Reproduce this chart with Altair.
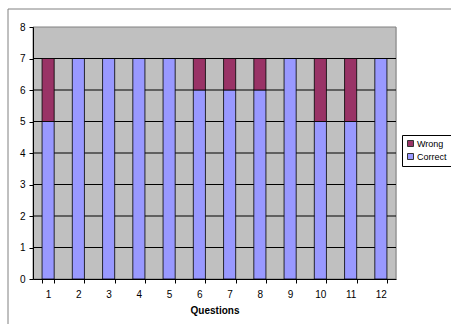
import altair as alt
import pandas as pd

questions = ["1", "2", "3", "4", "5", "6", "7", "8", "9", "10", "11", "12"]
correct = [5, 7, 7, 7, 7, 6, 6, 6, 7, 5, 5, 7]
wrong = [2, 0, 0, 0, 0, 1, 1, 1, 0, 2, 2, 0]
series = ["Wrong", "Correct"]
colors = ["#993366", "#9999FF"]
y_ticks = [0, 1, 2, 3, 4, 5, 6, 7, 8]
grid_lines = [1, 2, 3, 4, 5, 6, 7]

rows = []
for q, c, w in zip(questions, correct, wrong):
    rows.append({"Question": q, "Series": "Correct", "Value": c, "ord": 0})
    rows.append({"Question": q, "Series": "Wrong", "Value": w, "ord": 1})
df = pd.DataFrame(rows)

FONT = "Liberation Sans"
one = pd.DataFrame({"k": [0]})

y_axis = alt.Axis(title=None, values=y_ticks, labelOverlap=False,
                  domainColor="black", tickColor="black", tickSize=4,
                  labelColor="black", labelFontSize=10, labelPadding=4,
                  grid=False, zindex=1)
y_scale = alt.Scale(domain=[0, 8], nice=False)

frame_left = alt.Chart(one).mark_rule(color="#808080", strokeWidth=1, clip=False).encode(
    x=alt.value(-25), y=alt.value(-18), y2=alt.value(297)
)
frame_top = alt.Chart(one).mark_rule(color="#808080", strokeWidth=1, clip=False).encode(
    x=alt.value(-25), x2=alt.value(418), y=alt.value(-18)
)

plot_bg = alt.Chart(one).mark_rect(fill="#C0C0C0", stroke="#808080", strokeWidth=1).encode(
    x=alt.value(0), x2=alt.value(363), y=alt.value(0), y2=alt.value(252)
)

grid = alt.Chart(pd.DataFrame({"Value": grid_lines})).mark_rule(color="black", strokeWidth=1).encode(
    y=alt.Y("Value:Q", scale=y_scale, axis=y_axis), x=alt.value(0), x2=alt.value(363)
)

bars = alt.Chart(df).mark_bar(stroke="black", strokeWidth=0.8).encode(
    x=alt.X("Question:N", sort=questions,
            scale=alt.Scale(paddingInner=0.6, paddingOuter=0.3),
            axis=alt.Axis(title="Questions", labelAngle=0, tickBand="extent",
                          domainColor="black", tickColor="black", tickSize=4,
                          labelColor="black", labelFontSize=10, labelPadding=6,
                          titleFontSize=10, titleFontWeight="bold", titleColor="black",
                          titlePadding=6, grid=False, zindex=1)),
    y=alt.Y("Value:Q", stack="zero", scale=y_scale, axis=y_axis),
    color=alt.Color("Series:N", scale=alt.Scale(domain=series, range=colors),
                    legend=alt.Legend(title=None, orient="none", legendX=369, legendY=108,
                                      symbolType="square", symbolSize=36,
                                      symbolStrokeColor="#333333", symbolStrokeWidth=1,
                                      labelFontSize=9, labelColor="black", labelOffset=2,
                                      strokeColor="black", fillColor="white",
                                      padding=4, rowPadding=2)),
    order=alt.Order("ord:Q"),
)

chart = alt.layer(plot_bg, grid, bars, frame_left, frame_top).properties(
    width=363, height=252,
    autosize=alt.AutoSizeParams(type="none"),
    padding={"left": 33, "top": 27, "right": 55, "bottom": 45},
    background="white",
).configure_view(
    stroke=None
).configure(font=FONT)

chart.save("out.html", embed_options={"renderer": "svg", "actions": False})
